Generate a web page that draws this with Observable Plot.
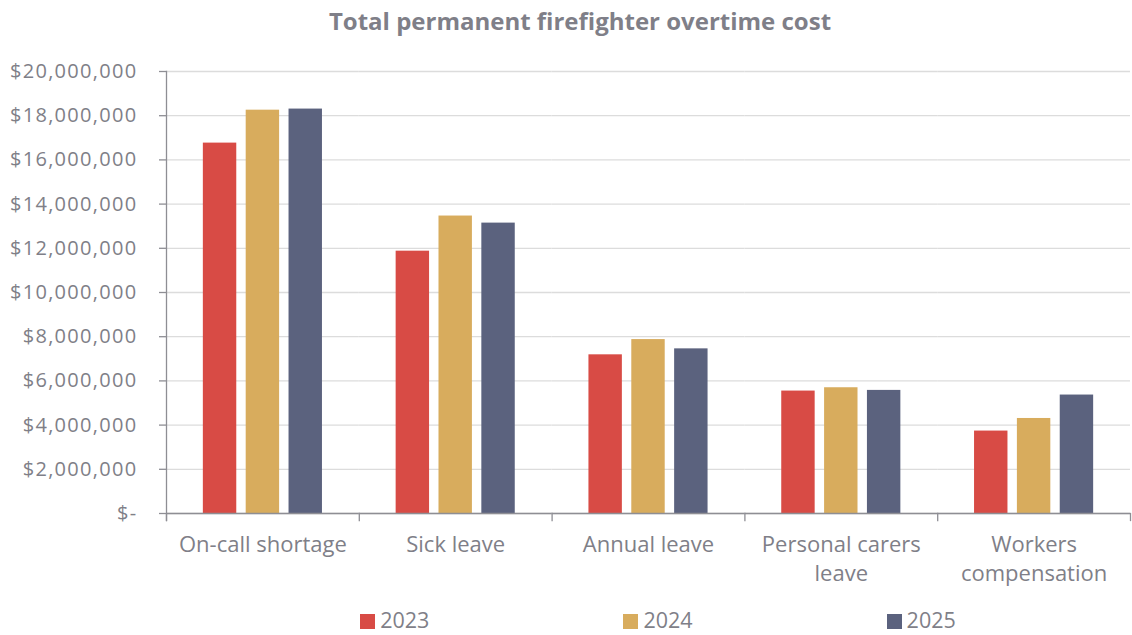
<!DOCTYPE html>
<html><head><meta charset="utf-8">
<script src="https://cdn.jsdelivr.net/npm/d3@7"></script>
<script src="https://cdn.jsdelivr.net/npm/@observablehq/plot@0.6"></script>
<style>
body{margin:0;background:#fff;font-family:"Open Sans",sans-serif;width:1132px;overflow:hidden;}
#title{height:45px;line-height:42px;text-align:center;font-weight:bold;font-size:24px;color:#7f7f88;font-family:"Open Sans",sans-serif;padding-left:28px;box-sizing:border-box;}
#legend{margin-left:166px;padding-left:20px;width:964px;display:flex;justify-content:center;gap:194px;height:35px;align-items:flex-start;padding-top:8px;box-sizing:border-box;}
.item{display:flex;align-items:center;font-size:21.5px;color:#7f7f88;line-height:24px;}
.sw{width:15px;height:15px;margin-right:5px;margin-top:2px;}
</style></head><body>
<div id="title">Total permanent firefighter overtime cost</div>
<div id="chart"></div>
<div id="legend"></div>
<script>
const categories = ["On-call shortage", "Sick leave", "Annual leave", "Personal carers leave", "Workers compensation"];
const categoryLabels = ["On-call shortage", "Sick leave", "Annual leave", "Personal carers\nleave", "Workers\ncompensation"];
const years = ["2023", "2024", "2025"];
const v2023 = [16760000, 11870000, 7180000, 5540000, 3730000];
const v2024 = [18250000, 13460000, 7870000, 5690000, 4300000];
const v2025 = [18300000, 13140000, 7450000, 5570000, 5360000];
const colors = ["#D84B45", "#D8AC5D", "#5B627E"];
const yTicks = [0, 2000000, 4000000, 6000000, 8000000, 10000000, 12000000, 14000000, 16000000, 18000000, 20000000];

const series = [v2023, v2024, v2025];
const data = categories.flatMap((c, i) => years.map((y, j) => ({category: c, year: y, value: series[j][i]})));

const textColor = "#7f7f88";
const axisColor = "#8e8e94";
const W = 1132, H = 555, mT = 26, mB = 87, mL = 166, mR = 2;
const plotH = H - mT - mB;
const fmt = d => d === 0 ? "$-" : "$" + d3.format(",")(d);

const chart = Plot.plot({
  width: W, height: H,
  marginTop: mT, marginBottom: mB, marginLeft: mL, marginRight: mR,
  style: {fontFamily: "'Open Sans', sans-serif", background: "#fff"},
  fx: {domain: categories, padding: 0, round: false, axis: null},
  x: {domain: years, paddingInner: 0.22, paddingOuter: 0.86, round: false, axis: null},
  y: {domain: [0, 20000000], ticks: yTicks},
  color: {domain: years, range: colors},
  marks: [
    Plot.gridY(yTicks, {stroke: "#dcdcdc", strokeOpacity: 1, strokeWidth: 1.3}),
    Plot.barY(data, {fx: "category", x: "year", y: "value", fill: "year"}),
    Plot.ruleY([0], {stroke: axisColor, strokeWidth: 1.3}),
    Plot.frame({anchor: "left", facetAnchor: "left", stroke: axisColor, strokeWidth: 1.3, insetBottom: -7}),
    Plot.frame({anchor: "left", stroke: axisColor, strokeWidth: 1.3, insetTop: plotH, insetBottom: -7}),
    Plot.frame({anchor: "right", facetAnchor: "right", stroke: axisColor, strokeWidth: 1.3, insetTop: plotH, insetBottom: -7}),
    Plot.axisY(yTicks, {tickSize: 7, tickPadding: 22, tickFormat: fmt, fontSize: 20, fill: textColor, stroke: axisColor, strokeWidth: 1.3, label: null}),
    Plot.text(categories, {fx: d => d, text: (d, i) => categoryLabels[i], frameAnchor: "bottom", lineAnchor: "top", dy: 18, fontSize: 22, lineHeight: 1.32, fill: textColor})
  ]
});
chart.querySelectorAll("g[aria-label='y-axis tick label'] text").forEach(t => t.setAttribute("letter-spacing", "1.3"));
document.getElementById("chart").appendChild(chart);

const legend = document.getElementById("legend");
years.forEach((y, j) => {
  const it = document.createElement("div");
  it.className = "item";
  it.innerHTML = `<span class="sw" style="background:${colors[j]}"></span><span>${y}</span>`;
  legend.appendChild(it);
});
</script>
</body></html>
